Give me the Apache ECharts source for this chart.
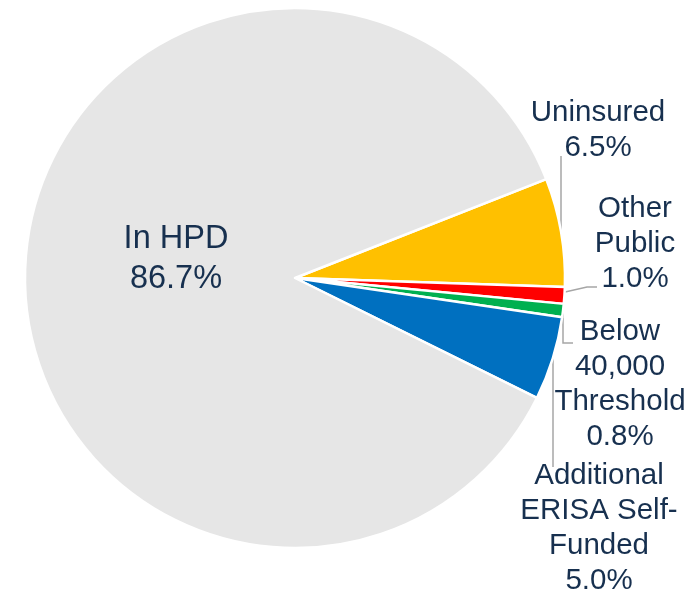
<!DOCTYPE html>
<html>
<head>
<meta charset="utf-8" />
<title>Coverage</title>
<style>
  html, body { margin: 0; padding: 0; background: #fff; }
  #main { width: 696px; height: 592px; }
</style>
</head>
<body>
<div id="main"></div>
<script src="https://cdn.jsdelivr.net/npm/echarts@6/dist/echarts.min.js"></script>
<script>
// chart data
var labels = ['Uninsured', 'Other\nPublic', 'Below\n40,000\nThreshold', 'Additional\nERISA Self-\nFunded', 'In HPD'];
var shares = [6.5, 1.0, 0.8, 5.0, 86.7];
var colors = ['#ffc000', '#ff0000', '#00b050', '#0070c0', '#e6e6e6'];

// where each label sits (centre of the text block) and its leader line
var labelPos = [[598, 130], [635, 244], [620, 384], [599, 528], [176, 259]];
var leaderLines = [
    [[561, 230], [561, 156]],
    [[565, 292], [587, 287], [597, 287]],
    [[563, 308], [563, 343], [573, 343]],
    [[553, 357], [553, 467]],
    null
];

var myChart = echarts.init(document.getElementById('main'));

var data = labels.map(function (name, i) {
    var item = { name: name, value: shares[i], itemStyle: { color: colors[i] } };
    if (i === 4) {
        item.labelLine = { show: false };
        item.label = { fontSize: 32.5, lineHeight: 40 };
    }
    return item;
});

var option = {
    animation: false,
    series: [
        {
            type: 'pie',
            center: [295, 278],
            radius: [0, 270],
            startAngle: 21.5,
            clockwise: true,
            avoidLabelOverlap: false,
            itemStyle: { borderColor: '#ffffff', borderWidth: 2.5 },
            label: {
                show: true,
                position: 'outside',
                formatter: function (p) { return p.name + '\n' + p.value.toFixed(1) + '%'; },
                fontFamily: 'Liberation Sans, Arial, sans-serif',
                fontSize: 29.5,
                lineHeight: 35,
                color: '#17304f',
                align: 'center'
            },
            labelLine: {
                show: true,
                length: 10,
                length2: 10,
                lineStyle: { color: '#a6a6a6', width: 1.5 }
            },
            labelLayout: function (params) {
                var p = labelPos[params.dataIndex];
                var out = { x: p[0], y: p[1], align: 'center', verticalAlign: 'middle' };
                if (leaderLines[params.dataIndex]) out.labelLinePoints = leaderLines[params.dataIndex];
                return out;
            },
            data: data
        }
    ]
};
myChart.setOption(option);
</script>
</body>
</html>
